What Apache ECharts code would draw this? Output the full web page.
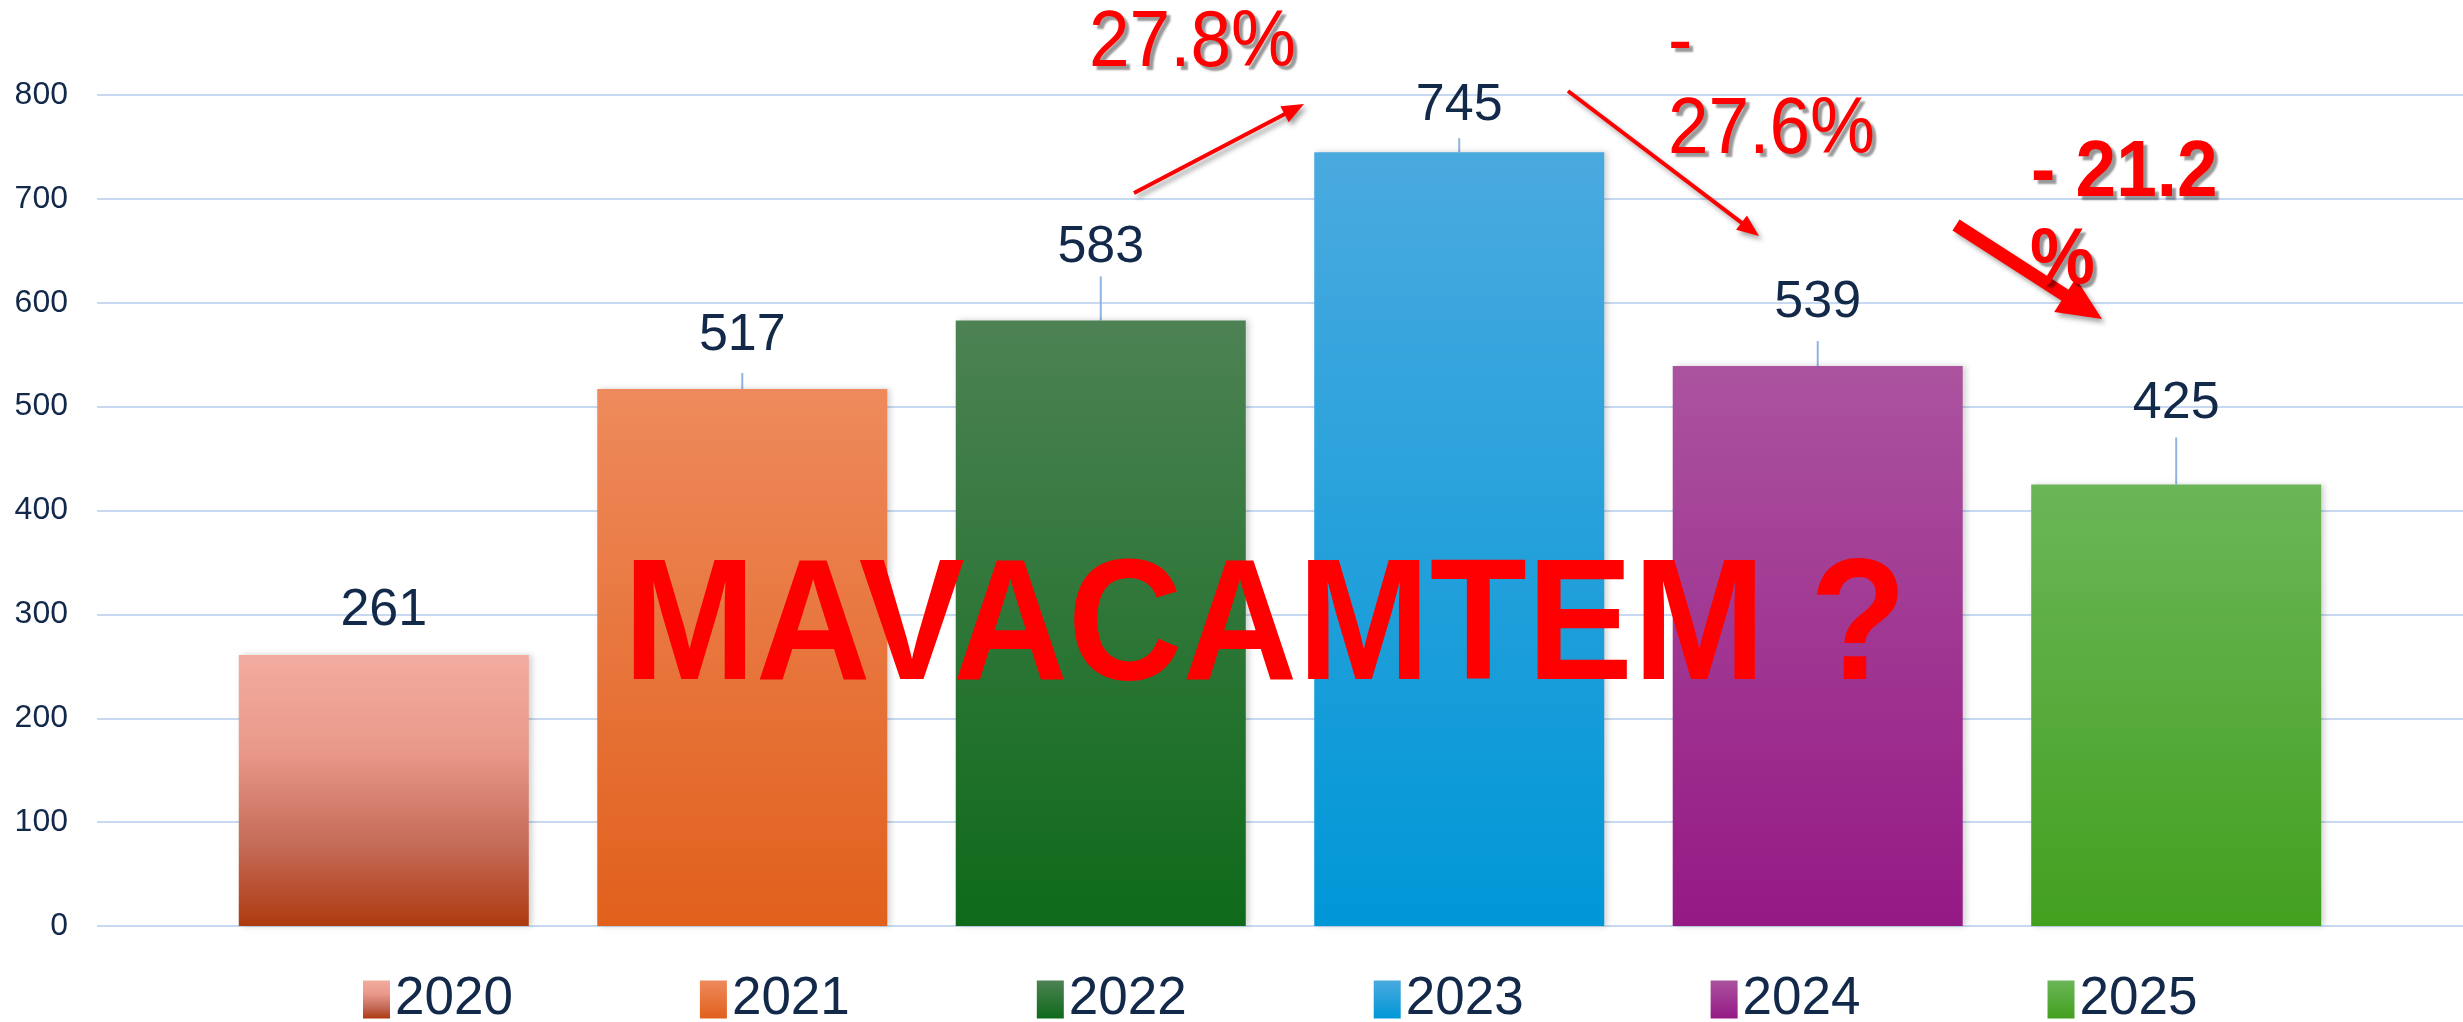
<!DOCTYPE html>
<html>
<head>
<meta charset="utf-8">
<script src="https://cdn.jsdelivr.net/npm/echarts@6/dist/echarts.min.js"></script>
<style>
  html, body { margin: 0; padding: 0; background: #fff; }
  #chart { width: 2463px; height: 1022px; }
</style>
</head>
<body>
<div id="chart"></div>
<script>
// data
const years = ['2020', '2021', '2022', '2023', '2024', '2025']
const values = [261, 517, 583, 745, 539, 425]
const yMin = 0
const yMax = 800
const yStep = 100

// look
const FONT = '"Liberation Sans", Arial, sans-serif'
const INK = '#12294A'
const barStops = [
  [['#F2AC9F', 0], ['#E9998A', 0.35], ['#C56B58', 0.7], ['#AD3A10', 1]],
  [['#EE8A5C', 0], ['#E1601C', 1]],
  [['#4D8254', 0], ['#0E6A1A', 1]],
  [['#4AAADF', 0], ['#0097D7', 1]],
  [['#AB539F', 0], ['#951985', 1]],
  [['#6BB658', 0], ['#43A01F', 1]]
]
// label distance above bar top, and leader line length (px)
const labelDist = [18, 27, 47, 20, 37, 55]
const leaderLen = [0, 16, 44, 14, 25, 47]

const myChart = echarts.init(document.getElementById('chart'))

function grad(stops) {
  return new echarts.graphic.LinearGradient(0, 0, 0, 1,
    stops.map(s => ({ color: s[0], offset: s[1] })))
}

function arrow(x1, y1, x2, y2, w, hl, hw) {
  const dx = x2 - x1, dy = y2 - y1
  const len = Math.hypot(dx, dy)
  const ux = dx / len, uy = dy / len
  const bx = x2 - ux * hl, by = y2 - uy * hl
  const nx = -uy, ny = ux
  const shadow = { shadowBlur: 5, shadowColor: 'rgba(0,0,0,0.35)', shadowOffsetX: 3, shadowOffsetY: 4 }
  return [{
    type: 'line',
    z: 100,
    shape: { x1: x1, y1: y1, x2: bx + ux * 2, y2: by + uy * 2 },
    style: Object.assign({ stroke: '#FF0000', lineWidth: w }, shadow)
  }, {
    type: 'polygon',
    z: 100,
    shape: { points: [[x2, y2], [bx + nx * hw / 2, by + ny * hw / 2], [bx - nx * hw / 2, by - ny * hw / 2]] },
    style: Object.assign({ fill: '#FF0000' }, shadow)
  }]
}

function note(text, x, y, bold) {
  return {
    type: 'text',
    z: 100,
    x: x,
    y: y,
    scaleY: 1.1,
    style: {
      text: text,
      font: (bold ? 'bold ' : '') + '73px ' + FONT,
      fill: '#FF0000',
      verticalAlign: 'middle',
      textShadowColor: 'rgba(0,0,0,0.4)',
      textShadowBlur: 2,
      textShadowOffsetX: 4,
      textShadowOffsetY: 4
    }
  }
}

const barSeries = years.map((y, i) => ({
  name: y,
  type: 'bar',
  barWidth: 290,
  barGap: '-100%',
  data: [{ value: [i, values[i]], label: { distance: labelDist[i] } }],
  itemStyle: {
    color: grad(barStops[i]),
    shadowBlur: 6,
    shadowColor: 'rgba(0,0,0,0.18)',
    shadowOffsetX: 3
  },
  label: {
    show: true,
    position: 'top',
    formatter: p => p.value[1],
    fontSize: 52,
    fontFamily: FONT,
    color: INK
  }
}))

const leaderSeries = {
  type: 'custom',
  silent: true,
  z: 1,
  data: values.map((v, i) => [i, v]),
  renderItem: (params, api) => {
    const p = api.coord([api.value(0), api.value(1)])
    const l = leaderLen[params.dataIndex]
    return {
      type: 'line',
      shape: { x1: p[0], y1: p[1], x2: p[0], y2: p[1] - l },
      style: { stroke: '#8DB4E2', lineWidth: 2 }
    }
  }
}

const option = {
  animation: false,
  grid: { left: 97, right: 0, top: 95, bottom: 96 },
  legend: {
    data: years,
    left: 358,
    top: 968,
    icon: 'rect',
    itemWidth: 27,
    itemHeight: 38,
    itemGap: 187,
    textStyle: { fontSize: 53, color: INK, fontFamily: FONT }
  },
  xAxis: {
    type: 'value',
    min: -0.8,
    max: 5.8,
    show: false
  },
  yAxis: {
    type: 'value',
    min: yMin,
    max: yMax,
    interval: yStep,
    axisLine: { show: false },
    axisTick: { show: false },
    axisLabel: { fontSize: 32, color: INK, fontFamily: FONT, margin: 29 },
    splitLine: { lineStyle: { color: '#C6D9F0', width: 2 } }
  },
  series: barSeries.concat([leaderSeries]),
  graphic: [].concat(
    arrow(1134, 193, 1304, 104, 4, 22, 18),
    arrow(1568, 91, 1759, 236, 4, 22, 18),
    arrow(1956, 225, 2102, 319, 13, 44, 40),
    [
      note('27.8%', 1089, 44, false),
      note('-', 1668, 44, false),
      note('27.6%', 1668, 131, false),
      note('- 21.2', 2031, 174, true),
      note('%', 2030, 261, true),
      {
        type: 'text',
        z: 100,
        x: 1265,
        y: 632,
        scaleY: 1.08,
        style: {
          text: 'MAVACAMTEM ?',
          font: 'bold 159px ' + FONT,
          fill: '#FF0000',
          align: 'center',
          verticalAlign: 'middle'
        }
      }
    ]
  )
}

myChart.setOption(option)
</script>
</body>
</html>
